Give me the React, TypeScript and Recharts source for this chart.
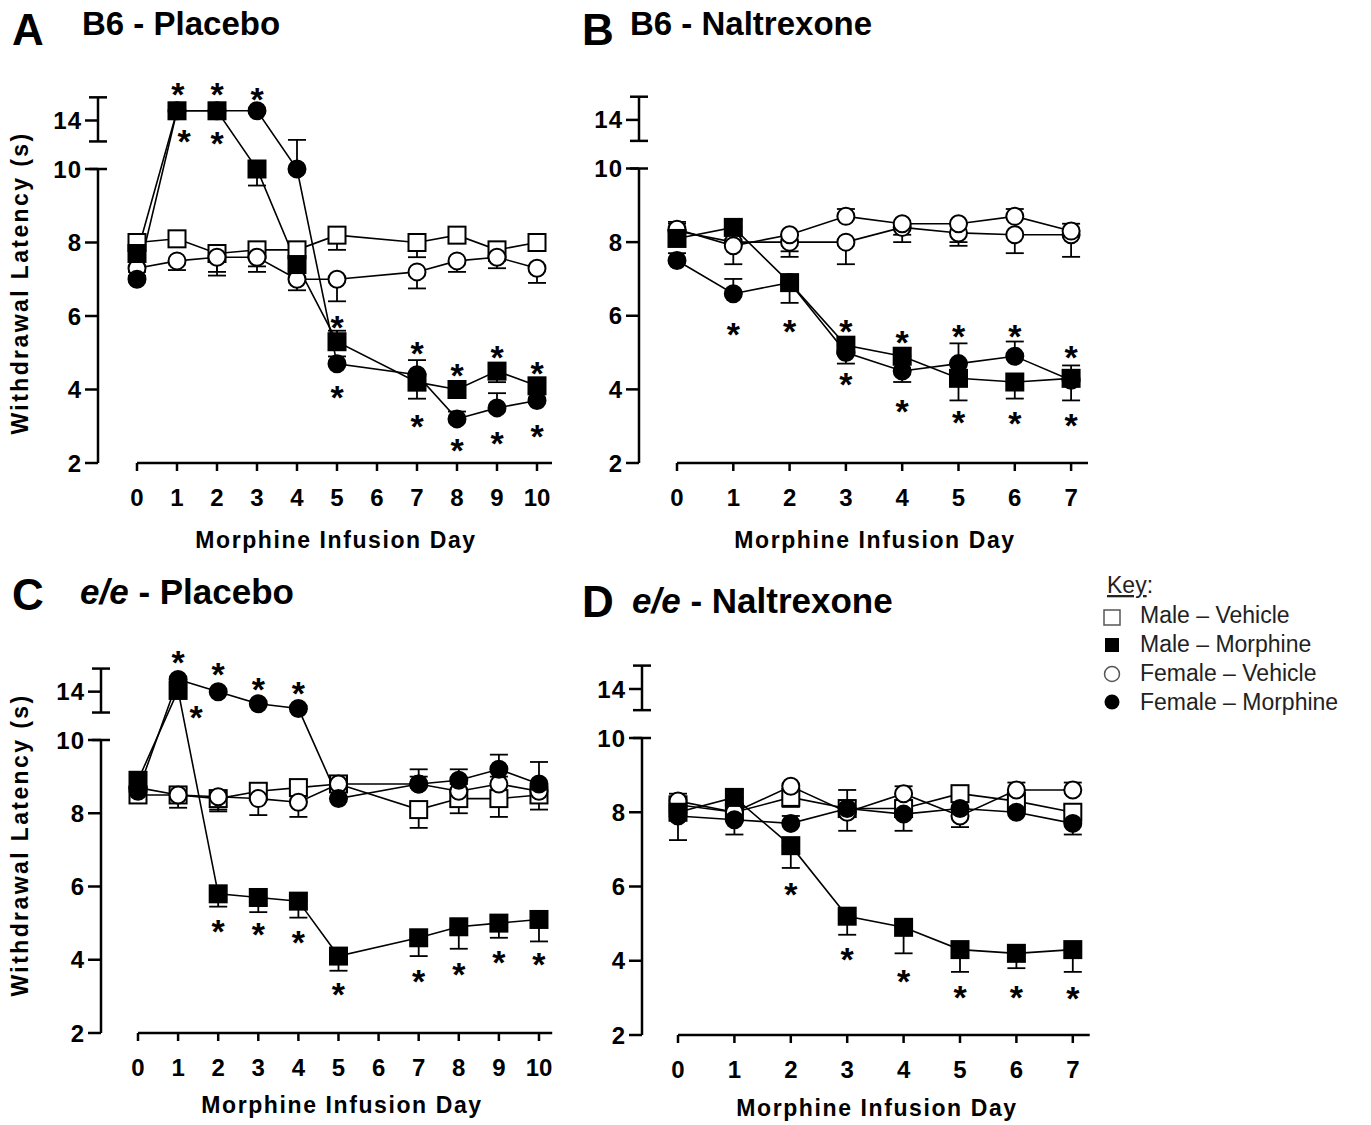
import React from "react";
import {
  ComposedChart,
  Line,
  XAxis,
  YAxis,
  ErrorBar,
  Scatter,
  ReferenceLine,
} from "recharts";

const FONT = "'Liberation Sans', Arial, Helvetica, sans-serif";

// ---- data (withdrawal latency, s) ----
// negative error = bar drawn downward, positive = upward
const daysA = [0, 1, 2, 3, 4, 5, 7, 8, 9, 10];
const aMaleVeh = [8.0, 8.1, 7.7, 7.8, 7.8, 8.2, 8.0, 8.2, 7.8, 8.0];
const aMaleVehErr = [0.2, 0.2, -0.5, -0.45, 0.2, -0.4, -0.4, -0.2, -0.3, -0.2];
const aMaleMor = [7.7, 14.8, 14.8, 10.0, 7.4, 5.3, 4.2, 4.0, 4.5, 4.1];
const aMaleMorErr = [0.2, 0.2, 0.2, -0.45, 0.2, 0.3, -0.45, 0.2, -0.3, 0.2];
const aFemVeh = [7.3, 7.5, 7.6, 7.6, 7.0, 7.0, 7.2, 7.5, 7.6, 7.3];
const aFemVehErr = [-0.2, -0.25, -0.5, -0.4, -0.3, -0.6, -0.45, -0.3, -0.3, -0.4];
const aFemMor = [7.0, 14.8, 14.8, 14.8, 10.0, 4.7, 4.4, 3.2, 3.5, 3.7];
const aFemMorErr = [0.2, 0.2, 0.2, 0.2, 2.4, 0.2, 0.4, 0.2, 0.4, 0.2];
const aStarDays = [1.02, 1.18, 2, 2, 3, 5, 5, 7, 7, 8, 8, 9, 9, 10, 10];
const aStarLevels = [16.8, 12.9, 16.8, 12.8, 16.4, 5.9, 4.0, 5.2, 3.2, 4.6, 2.55, 5.1, 2.75, 4.65, 2.95];

const daysB = [0, 1, 2, 3, 4, 5, 6, 7];
const bMaleVeh = [8.3, 8.0, 8.0, 8.0, 8.4, 8.25, 8.2, 8.2];
const bMaleVehErr = [0.2, 0.2, -0.25, -0.6, -0.4, -0.35, -0.5, -0.6];
const bMaleMor = [8.1, 8.4, 6.9, 5.2, 4.9, 4.3, 4.2, 4.3];
const bMaleMorErr = [0.2, 0.2, -0.55, 0.2, 0.2, -0.6, -0.45, -0.6];
const bFemVeh = [8.35, 7.9, 8.2, 8.7, 8.5, 8.5, 8.7, 8.3];
const bFemVehErr = [0.2, -0.5, -0.6, 0.2, -0.3, -0.5, 0.2, 0.2];
const bFemMor = [7.5, 6.6, 6.9, 5.0, 4.5, 4.7, 4.9, 4.25];
const bFemMorErr = [0.2, 0.4, 0.2, -0.3, -0.3, 0.55, 0.4, 0.4];
const bStarDays = [1, 2, 3, 3, 4, 4, 5, 5, 6, 6, 7, 7];
const bStarLevels = [5.72, 5.8, 5.8, 4.35, 5.48, 3.62, 5.64, 3.31, 5.64, 3.28, 5.07, 3.24];

const daysC = [0, 1, 2, 3, 4, 5, 7, 8, 9, 10];
const cMaleVeh = [8.5, 8.5, 8.4, 8.6, 8.7, 8.8, 8.1, 8.4, 8.4, 8.5];
const cMaleVehErr = [-0.2, -0.35, -0.3, 0.2, 0.2, 0.2, -0.5, -0.4, -0.5, -0.4];
const cMaleMor = [8.9, 14.1, 5.8, 5.7, 5.6, 4.1, 4.6, 4.9, 5.0, 5.1];
const cMaleMorErr = [0.2, 0.2, -0.35, -0.4, -0.45, -0.4, -0.5, -0.6, -0.4, -0.6];
const cFemVeh = [8.7, 8.5, 8.45, 8.4, 8.3, 8.8, 8.8, 8.6, 8.8, 8.6];
const cFemVehErr = [0.2, 0.2, -0.4, -0.45, -0.4, 0.2, 0.2, 0.2, 0.2, 0.2];
const cFemMor = [8.6, 15.0, 14.0, 13.0, 12.6, 8.4, 8.8, 8.9, 9.2, 8.8];
const cFemMorErr = [0.2, 0.2, 0.2, 0.2, 0.2, 0.2, 0.4, 0.3, 0.4, 0.6];
const cStarDays = [1, 1.45, 2, 3, 4, 2, 3, 4, 5, 7, 8, 9, 10];
const cStarLevels = [17.1, 12.5, 16.1, 14.8, 14.5, 5.0, 4.9, 4.68, 3.28, 3.63, 3.81, 4.13, 4.08];

const daysD = [0, 1, 2, 3, 4, 5, 6, 7];
const dMaleVeh = [8.2, 8.0, 8.4, 8.1, 8.1, 8.5, 8.3, 8.0];
const dMaleVehErr = [0.2, 0.2, -0.25, 0.2, 0.2, 0.2, 0.2, 0.2];
const dMaleMor = [8.0, 8.4, 7.1, 5.2, 4.9, 4.3, 4.2, 4.3];
const dMaleMorErr = [0.2, 0.2, -0.6, -0.5, -0.7, -0.6, -0.4, -0.6];
const dFemVeh = [8.3, 8.0, 8.7, 8.0, 8.5, 7.9, 8.6, 8.6];
const dFemVehErr = [0.2, 0.2, -0.55, -0.5, 0.2, -0.3, 0.2, 0.2];
const dFemMor = [7.9, 7.8, 7.7, 8.1, 7.95, 8.1, 8.0, 7.7];
const dFemMorErr = [-0.65, -0.4, 0.2, 0.5, -0.45, 0.2, 0.2, -0.3];
const dStarDays = [2, 3, 4, 5, 6, 7];
const dStarLevels = [6.0, 4.25, 3.66, 3.23, 3.23, 3.19];

const yTickValues = [2, 4, 6, 8, 10, 14];
const legendLabels = ["Male – Vehicle", "Male – Morphine", "Female – Vehicle", "Female – Morphine"];

// ---- broken y axis: values above 10 are squeezed ----
const K = 0.33;
const Y_TOP = 12.6;
const BREAK_LO = 10.75;
const BREAK_HI = 11.95;
const toAxis = (v: number) => (v <= 10 ? v : 10 + (v - 10) * K);

type Shape = "square" | "circle";
interface Series {
  key: string;
  values: number[];
  errs: number[];
  shape: Shape;
  filled: boolean;
}

const makeDot = (shape: Shape, filled: boolean) => (p: any) => {
  const { cx, cy, index } = p;
  if (cx == null || cy == null) return <g key={`n${index}`} />;
  const fill = filled ? "#000" : "#fff";
  if (shape === "square")
    return (
      <rect key={`d${index}`} x={cx - 8.5} y={cy - 8.5} width={17} height={17}
        fill={fill} stroke="#000" strokeWidth={2} />
    );
  return <circle key={`d${index}`} cx={cx} cy={cy} r={8.5} fill={fill} stroke="#000" strokeWidth={2} />;
};

const starShape = (p: any) => (
  <text x={p.cx} y={p.cy + 19.5} textAnchor="middle" fontSize={34} fontWeight={700}
    fontFamily={FONT} fill="#000">*</text>
);

interface PanelProps {
  days: number[];
  series: Series[];
  starDays: number[];
  starLevels: number[];
  axisX: number;
  day0X: number;
  pxPerDay: number;
  xMax: number;
  y2: number;
  y10: number;
  top: number;
}

const YW = 90;

const Panel: React.FC<PanelProps> = (p) => {
  const unit = (p.y2 - p.y10) / 8;
  const plotTop = p.y10 - (Y_TOP - 10) * unit;
  const xMin = (p.axisX - p.day0X) / p.pxPerDay;
  const plotW = (p.xMax - xMin) * p.pxPerDay;
  const width = YW + plotW + 5;
  const height = p.y2 - p.top + 50;
  const cap = 9 / p.pxPerDay;

  const rows = p.days.map((d, i) => {
    const row: any = { day: d };
    p.series.forEach((s) => {
      const v = s.values[i];
      const e = s.errs[i];
      row[s.key] = toAxis(v);
      row[s.key + "Err"] =
        e < 0 ? [toAxis(v) - toAxis(v + e), 0] : [0, toAxis(v + e) - toAxis(v)];
    });
    return row;
  });
  const stars = p.starDays.map((d, i) => ({ day: d, lvl: toAxis(p.starLevels[i]) }));
  const xTicks = [];
  for (let d = 0; d <= Math.floor(p.xMax); d++) xTicks.push(d);
  const axisStroke = { stroke: "#000", strokeWidth: 2.5 };
  const tickFont = { fill: "#000", fontSize: 24, fontWeight: 700, fontFamily: FONT };

  return (
    <div style={{ position: "absolute", left: p.axisX - YW, top: p.top }}>
      <ComposedChart width={width} height={height} data={rows}
        margin={{ top: plotTop - p.top, right: 5, bottom: 0, left: 0 }}>
        <XAxis type="number" dataKey="day" domain={[xMin, p.xMax]} allowDataOverflow
          ticks={xTicks} interval={0} axisLine={false} tickLine={axisStroke}
          tickSize={8} tickMargin={18} height={50} tick={tickFont} />
        <YAxis type="number" domain={[2, Y_TOP]} allowDataOverflow width={YW}
          ticks={yTickValues.map(toAxis)} interval={0} axisLine={false}
          tickLine={axisStroke} tickSize={13} tickMargin={3}
          tickFormatter={(v: number) => (v > 10.5 ? "14" : String(v))}
          tick={{ ...tickFont, letterSpacing: 1 }} />
        <ReferenceLine segment={[{ x: xMin, y: 2 }, { x: xMin, y: 10 }]} ifOverflow="visible" {...axisStroke} />
        <ReferenceLine segment={[{ x: xMin - cap, y: 10 }, { x: xMin + cap, y: 10 }]} ifOverflow="visible" {...axisStroke} />
        <ReferenceLine segment={[{ x: xMin, y: BREAK_LO }, { x: xMin, y: BREAK_HI }]} ifOverflow="visible" {...axisStroke} />
        <ReferenceLine segment={[{ x: xMin - cap, y: BREAK_LO }, { x: xMin + cap, y: BREAK_LO }]} ifOverflow="visible" {...axisStroke} />
        <ReferenceLine segment={[{ x: xMin - cap, y: BREAK_HI }, { x: xMin + cap, y: BREAK_HI }]} ifOverflow="visible" {...axisStroke} />
        <ReferenceLine segment={[{ x: 0, y: 2 }, { x: p.xMax, y: 2 }]} ifOverflow="visible" {...axisStroke} />
        {p.series.map((s) => (
          <Line key={s.key} dataKey={s.key} type="linear" stroke="#000" strokeWidth={1.6}
            dot={makeDot(s.shape, s.filled)} activeDot={false} isAnimationActive={false}>
            <ErrorBar dataKey={s.key + "Err"} direction="y" width={9} stroke="#000"
              strokeWidth={1.8} isAnimationActive={false} />
          </Line>
        ))}
        <Scatter data={stars} dataKey="lvl" shape={starShape} isAnimationActive={false} />
      </ComposedChart>
    </div>
  );
};

const mk = (
  mv: number[], mvE: number[], mm: number[], mmE: number[],
  fv: number[], fvE: number[], fm: number[], fmE: number[], mvShape: Shape = "square"
): Series[] => [
  { key: "mv", values: mv, errs: mvE, shape: mvShape, filled: false },
  { key: "fv", values: fv, errs: fvE, shape: "circle", filled: false },
  { key: "fm", values: fm, errs: fmE, shape: "circle", filled: true },
  { key: "mm", values: mm, errs: mmE, shape: "square", filled: true },
];

const Titles: React.FC = () => {
  const bold = { fontFamily: FONT, fontWeight: 700, fill: "#000" } as const;
  const xLab = { ...bold, fontSize: 23, letterSpacing: 1.6, textAnchor: "middle" } as const;
  const yLab = { ...bold, fontSize: 23, letterSpacing: 2.4, textAnchor: "middle" } as const;
  return (
    <svg width={1371} height={1125} style={{ position: "absolute", left: 0, top: 0 }}>
      <text x={12} y={45} fontSize={44} {...bold}>A</text>
      <text x={82} y={35} fontSize={33} {...bold}>B6 - Placebo</text>
      <text x={582} y={45} fontSize={44} {...bold}>B</text>
      <text x={630} y={35} fontSize={33} {...bold}>B6 - Naltrexone</text>
      <text x={12} y={610} fontSize={44} {...bold}>C</text>
      <text x={80} y={604} fontSize={35} {...bold}>
        <tspan fontStyle="italic">e/e</tspan> - Placebo
      </text>
      <text x={582} y={617} fontSize={44} {...bold}>D</text>
      <text x={632} y={613} fontSize={35} {...bold}>
        <tspan fontStyle="italic">e/e</tspan> - Naltrexone
      </text>

      <text x={336} y={548} {...xLab}>Morphine Infusion Day</text>
      <text x={875} y={548} {...xLab}>Morphine Infusion Day</text>
      <text x={342} y={1113} {...xLab}>Morphine Infusion Day</text>
      <text x={877} y={1116} {...xLab}>Morphine Infusion Day</text>
      <text transform="translate(28,283) rotate(-90)" {...yLab}>Withdrawal Latency (s)</text>
      <text transform="translate(28,845) rotate(-90)" {...yLab}>Withdrawal Latency (s)</text>

      <text x={1107} y={593} fontSize={23} fontFamily={FONT} fill="#222">
        <tspan style={{ textDecoration: "underline" }}>Key</tspan>:
      </text>
      <rect x={1104} y={610} width={16} height={15} fill="#fff" stroke="#555" strokeWidth={1.5} />
      <rect x={1105} y={638} width={14} height={14} fill="#000" />
      <circle cx={1112} cy={674} r={7.5} fill="#fff" stroke="#555" strokeWidth={1.5} />
      <circle cx={1112} cy={702} r={7.5} fill="#000" />
      {legendLabels.map((t, i) => (
        <text key={t} x={1140} y={623 + i * 29} fontSize={23} fontFamily={FONT} fill="#222">{t}</text>
      ))}
    </svg>
  );
};

export default function App() {
  return (
    <div style={{ position: "absolute", left: 0, top: 0, width: 1371, height: 1125, background: "#fff", fontFamily: FONT }}>
      <Titles />
      <Panel days={daysA}
        series={mk(aMaleVeh, aMaleVehErr, aMaleMor, aMaleMorErr, aFemVeh, aFemVehErr, aFemMor, aFemMorErr)}
        starDays={aStarDays} starLevels={aStarLevels}
        axisX={98} day0X={137} pxPerDay={40} xMax={10.375} y2={463} y10={169} top={0} />
      <Panel days={daysB}
        series={mk(bMaleVeh, bMaleVehErr, bMaleMor, bMaleMorErr, bFemVeh, bFemVehErr, bFemMor, bFemMorErr, "circle")}
        starDays={bStarDays} starLevels={bStarLevels}
        axisX={639} day0X={677} pxPerDay={56.3} xMax={7.3} y2={463} y10={168.5} top={0} />
      <Panel days={daysC}
        series={mk(cMaleVeh, cMaleVehErr, cMaleMor, cMaleMorErr, cFemVeh, cFemVehErr, cFemMor, cFemMorErr)}
        starDays={cStarDays} starLevels={cStarLevels}
        axisX={101} day0X={138} pxPerDay={40.1} xMax={10.33} y2={1033} y10={740} top={560} />
      <Panel days={daysD}
        series={mk(dMaleVeh, dMaleVehErr, dMaleMor, dMaleMorErr, dFemVeh, dFemVehErr, dFemMor, dFemMorErr)}
        starDays={dStarDays} starLevels={dStarLevels}
        axisX={642} day0X={678} pxPerDay={56.4} xMax={7.3} y2={1035} y10={738} top={560} />
    </div>
  );
}
